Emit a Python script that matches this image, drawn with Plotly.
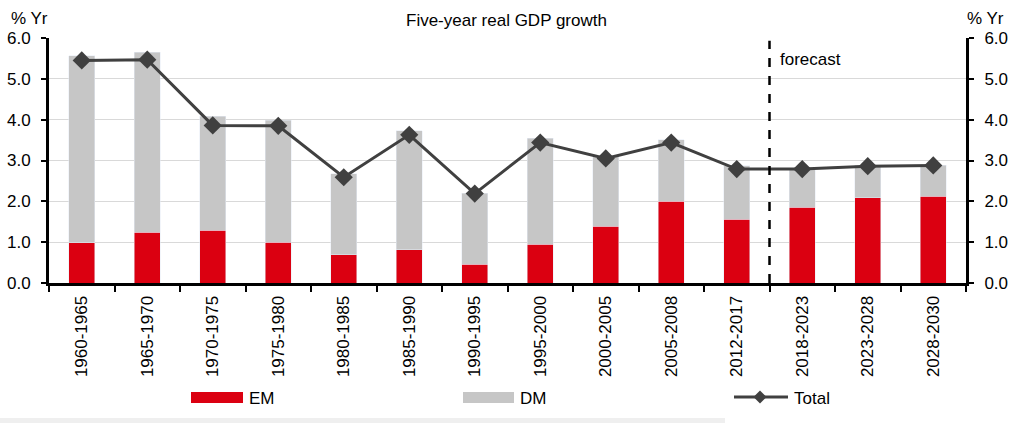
import plotly.graph_objects as go

categories = ["1960-1965", "1965-1970", "1970-1975", "1975-1980", "1980-1985",
              "1985-1990", "1990-1995", "1995-2000", "2000-2005", "2005-2008",
              "2012-2017", "2018-2023", "2023-2028", "2028-2030"]
em = [0.98, 1.24, 1.29, 1.00, 0.69, 0.82, 0.46, 0.95, 1.39, 2.00, 1.56, 1.85, 2.09, 2.12]
dm = [4.58, 4.41, 2.79, 2.98, 1.99, 2.91, 1.74, 2.59, 1.71, 1.51, 1.31, 0.95, 0.79, 0.76]
total = [5.45, 5.47, 3.86, 3.85, 2.59, 3.63, 2.19, 3.44, 3.05, 3.44, 2.79, 2.79, 2.86, 2.88]
forecast_boundary = 10.5

RED = "#DB0011"
GREY = "#C6C6C6"
LINE = "#404040"
FONT = "Liberation Sans, Arial, sans-serif"

W, H = 1019, 423
L, R, T, B = 49, 53, 38, 140
PW, PH = W - L - R, H - T - B


def px(x):
    return (x - L) / PW


def py(y):
    return (H - B - y) / PH


fig = go.Figure()
fig.add_bar(x=categories, y=em, name="EM", marker_color=RED, width=0.4, showlegend=False)
fig.add_bar(x=categories, y=dm, name="DM", marker_color=GREY, width=0.4, showlegend=False)
fig.add_scatter(x=categories, y=total, name="Total", mode="lines+markers", yaxis="y2",
                line=dict(color=LINE, width=3),
                marker=dict(symbol="diamond", size=14, color=LINE), showlegend=False)

axis_common = dict(range=[0, 6], dtick=1, tickformat=".1f", showline=True, linewidth=3,
                   linecolor="black", ticks="outside", ticklen=5, tickwidth=2,
                   tickcolor="black", tickfont=dict(size=17, color="black"), fixedrange=True,
                   automargin=False)

fig.update_layout(
    width=W, height=H, barmode="stack",
    margin=dict(l=L, r=R, t=T, b=B, autoexpand=False),
    plot_bgcolor="white", paper_bgcolor="white",
    font=dict(family=FONT, color="black"),
    xaxis=dict(type="category", range=[-0.5, len(categories) - 0.5], showline=True,
               linewidth=3, linecolor="black", ticks="outside", tickson="boundaries",
               ticklen=6, tickwidth=2, tickcolor="black", tickangle=-90,
               tickfont=dict(size=17, color="black"), showgrid=False, automargin=False,
               ticklabelstandoff=3, fixedrange=True),
    yaxis=dict(**axis_common, showgrid=True, gridcolor="#D9D9D9", gridwidth=1,
               zeroline=False, ticklabelstandoff=7),
    yaxis2=dict(**axis_common, overlaying="y", side="right", showgrid=False,
                zeroline=False, ticklabelstandoff=7),
)

shapes = [
    dict(type="line", xref="x", yref="y", x0=forecast_boundary, x1=forecast_boundary,
         y0=0, y1=5.93, line=dict(color="black", width=2.5, dash="dash")),
    # legend swatches
    dict(type="rect", xref="paper", yref="paper", x0=px(191), x1=px(243), y0=py(392), y1=py(403),
         fillcolor=RED, line=dict(width=0)),
    dict(type="rect", xref="paper", yref="paper", x0=px(463), x1=px(514), y0=py(392), y1=py(403),
         fillcolor=GREY, line=dict(width=0)),
    dict(type="line", xref="paper", yref="paper", x0=px(734), x1=px(788), y0=py(397), y1=py(397),
         line=dict(color=LINE, width=3)),
    dict(type="path", xref="paper", yref="paper",
         path=f"M {px(760)},{py(390.5)} L {px(766.5)},{py(397)} L {px(760)},{py(403.5)} L {px(753.5)},{py(397)} Z",
         fillcolor=LINE, line=dict(width=0)),
    # light band at bottom of the image
    dict(type="rect", xref="paper", yref="paper", x0=px(0), x1=px(725), y0=py(418), y1=py(423),
         fillcolor="#EFEFEF", line=dict(width=0), layer="below"),
]
fig.update_layout(shapes=shapes)

ann = [
    dict(text="Five-year real GDP growth", x=px(506), y=py(20), xref="paper", yref="paper",
         showarrow=False, font=dict(size=17), xanchor="center", yanchor="middle"),
    dict(text="% Yr", x=px(9), y=py(19), xref="paper", yref="paper", showarrow=False,
         font=dict(size=17), xanchor="left", yanchor="middle"),
    dict(text="% Yr", x=px(965), y=py(19), xref="paper", yref="paper", showarrow=False,
         font=dict(size=17), xanchor="left", yanchor="middle"),
    dict(text="forecast", x=px(778), y=py(60), xref="paper", yref="paper", showarrow=False,
         font=dict(size=17), xanchor="left", yanchor="middle"),
    dict(text="EM", x=px(247), y=py(398), xref="paper", yref="paper", showarrow=False,
         font=dict(size=17), xanchor="left", yanchor="middle"),
    dict(text="DM", x=px(518), y=py(398), xref="paper", yref="paper", showarrow=False,
         font=dict(size=17), xanchor="left", yanchor="middle"),
    dict(text="Total", x=px(792), y=py(398), xref="paper", yref="paper", showarrow=False,
         font=dict(size=17), xanchor="left", yanchor="middle"),
]
fig.update_layout(annotations=ann)

fig.write_html("out.html", config={"displayModeBar": False, "staticPlot": True},
               post_script="document.body.style.margin='0';document.body.style.overflow='hidden';")
